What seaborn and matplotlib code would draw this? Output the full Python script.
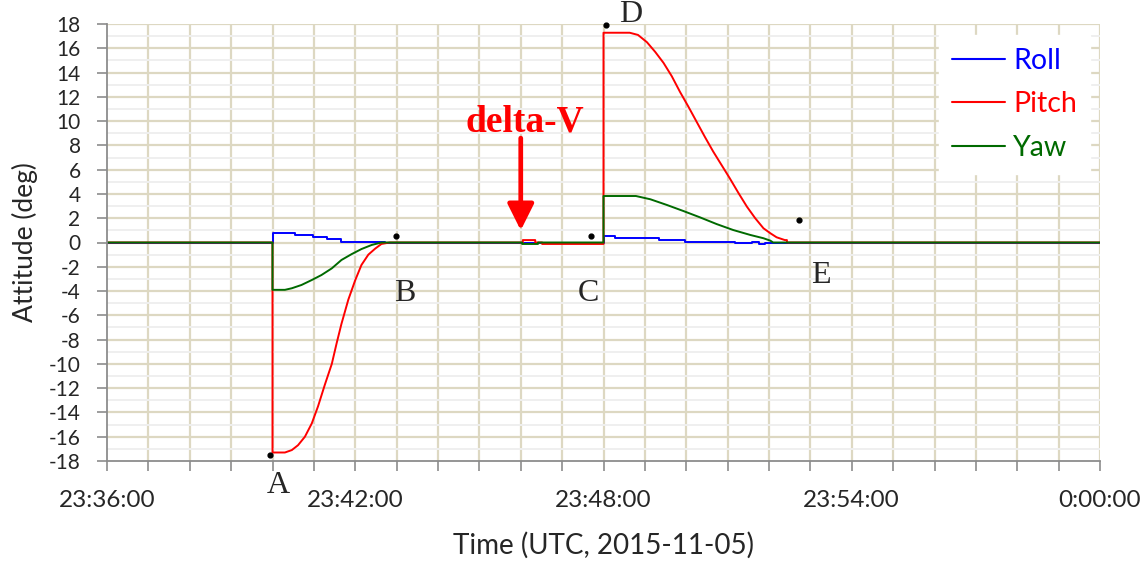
import matplotlib
matplotlib.use("Agg")
import matplotlib.pyplot as plt
from matplotlib.ticker import MultipleLocator, FixedLocator
import numpy as np
import pandas as pd
import seaborn as sns

# Time in seconds after 23:36:00 UTC, attitude in degrees
roll_t = [0, 240, 240, 272, 272, 299, 299, 319, 319, 339, 339, 403, 403,
          720, 720, 737, 737, 800, 800, 838, 838, 911, 911, 935, 935, 946,
          946, 954, 954, 1440]
roll_v = [0, 0, 0.75, 0.75, 0.62, 0.62, 0.43, 0.43, 0.29, 0.29, 0.07, 0.07, 0,
          0, 0.54, 0.54, 0.4, 0.4, 0.2, 0.2, 0.07, 0.07, -0.08, -0.08, 0.02,
          0.02, -0.12, -0.12, 0, 0]

pitch_t = [0, 240, 240, 258, 268, 277, 287, 297, 306, 316, 326, 333, 340,
           350, 360, 369, 379, 389, 398, 410, 603, 603, 621, 621, 631, 631,
           720, 720, 758, 770, 783, 795, 807, 819, 831, 843, 855, 867, 879,
           891, 903, 916, 928, 940, 952, 962, 971, 983, 986, 986, 1440]
pitch_v = [0, 0, -17.3, -17.3, -17.1, -16.7, -16.0, -14.9, -13.5, -11.7,
           -10.0, -8.3, -6.7, -4.7, -3.1, -1.85, -1.0, -0.5, -0.12, 0, 0,
           0.2, 0.2, 0, 0, -0.12, -0.12, 17.28, 17.28, 17.1, 16.5, 15.7, 14.8,
           13.7, 12.4, 11.2, 9.95, 8.7, 7.5, 6.4, 5.3, 4.05, 2.95, 2.0, 1.17,
           0.76, 0.43, 0.2, 0.2, 0, 0]

yaw_t = [0, 240, 240, 258, 268, 282, 297, 311, 326, 340, 355, 369, 384, 398,
         602, 602, 625, 625, 720, 720, 767, 788, 812, 836, 860, 884, 908, 933,
         952, 962, 966, 1440]
yaw_v = [0, 0, -3.9, -3.9, -3.77, -3.5, -3.09, -2.68, -2.13, -1.44, -0.95,
         -0.54, -0.2, 0, 0, -0.12, -0.12, 0, 0, 3.83, 3.83, 3.56, 3.09, 2.59,
         2.07, 1.52, 1.03, 0.62, 0.35, 0.15, 0, 0]

series_names = ["Roll", "Pitch", "Yaw"]
series_colors = ["#0000ff", "#ff0000", "#006a00"]

# Event markers A-E
event_labels = ["A", "B", "C", "D", "E"]
event_t = [236, 419, 702, 724, 1003]
event_v = [-17.5, 0.55, 0.55, 17.9, 1.85]
label_t = [248, 432, 698, 760, 1035]
label_v = [-20.05, -4.2, -4.2, 18.75, -2.75]

x_tick_labels = ["23:36:00", "23:42:00", "23:48:00", "23:54:00", "0:00:00"]

frames = []
for name, t, v in zip(series_names, [roll_t, pitch_t, yaw_t],
                      [roll_v, pitch_v, yaw_v]):
    frames.append(pd.DataFrame({"t": t, "value": v, "axis": name}))
df = pd.concat(frames, ignore_index=True)

sns.set_theme(style="white")
plt.rcParams["font.family"] = ["Lato", "DejaVu Sans"]

fig = plt.figure(figsize=(11.44, 5.62), dpi=100)
ax = fig.add_axes([107 / 1144, 1 - 461 / 562, 993 / 1144, 437 / 562])

sns.lineplot(data=df, x="t", y="value", hue="axis", hue_order=series_names,
             palette=dict(zip(series_names, series_colors)),
             estimator=None, sort=False, linewidth=1.4, ax=ax, legend=False)

# Grid: tan major lines, light grey minor lines on the value axis
ax.set_xlim(0, 1440)
ax.set_ylim(-18, 18)
ax.xaxis.set_major_locator(FixedLocator([0, 360, 720, 1080, 1440]))
ax.xaxis.set_minor_locator(MultipleLocator(60))
ax.set_xticklabels(x_tick_labels)
ax.yaxis.set_major_locator(MultipleLocator(2))
ax.yaxis.set_minor_locator(MultipleLocator(1))
ax.set_yticklabels([str(int(v)) for v in ax.get_yticks()])
ax.grid(False)
for xv in np.arange(60, 1441, 60):
    ax.axvline(xv, color="#ddd8c2", lw=1.6, zorder=0)
for yv in np.arange(-17, 18, 2):
    ax.axhline(yv, color="#efefef", lw=1.4, zorder=0)
for yv in np.arange(-16, 19, 2):
    ax.axhline(yv, color="#ddd8c2", lw=1.6, zorder=0)

for side in ["top", "right"]:
    ax.spines[side].set_visible(False)
for side in ["left", "bottom"]:
    ax.spines[side].set_color("#8c8c8c")
    ax.spines[side].set_linewidth(1.3)

ax.tick_params(axis="y", which="major", direction="out", length=7, width=1.2,
               color="#8c8c8c", labelsize=15, pad=12, left=True)
ax.tick_params(axis="y", which="minor", length=0)
ax.tick_params(axis="x", which="both", direction="out", length=7, width=1.2,
               color="#8c8c8c", bottom=True)
ax.tick_params(axis="x", which="major", labelsize=17.5, pad=14)

ax.set_xlabel("Time (UTC, 2015-11-05)", fontsize=20, labelpad=15)
ax.set_ylabel("Attitude (deg)", fontsize=19, labelpad=8)

# Event dots and letters
ax.scatter(event_t, event_v, s=12, color="black", zorder=5, clip_on=False)
for lab, tx, ty in zip(event_labels, label_t, label_v):
    ax.text(tx, ty, lab, fontsize=23, family="Liberation Serif",
            ha="center", va="center", clip_on=False)

# Delta-V marker
ax.text(606, 9.9, "delta-V", color="#ff0000", fontsize=27, fontweight="bold",
        family="Liberation Serif", ha="center", va="center")
ax.annotate("", xy=(600, 1.0), xytext=(600, 8.6),
            arrowprops=dict(arrowstyle="-|>,head_length=0.8,head_width=0.4",
                            mutation_scale=20, color="#ff0000", lw=3.4,
                            shrinkA=0, shrinkB=0))

handles = [plt.Line2D([], [], color=c, lw=1.5) for c in series_colors]
leg = ax.legend(handles, series_names, loc="upper right",
                bbox_to_anchor=(0.99, 0.975), borderaxespad=0,
                fontsize=20.5, frameon=True, fancybox=False, edgecolor="white",
                framealpha=1, handlelength=1.85, handletextpad=0.3,
                labelspacing=0.62, borderpad=0.45)
for txt, c in zip(leg.get_texts(), series_colors):
    txt.set_color(c)

fig.savefig("out.png", dpi=100)
